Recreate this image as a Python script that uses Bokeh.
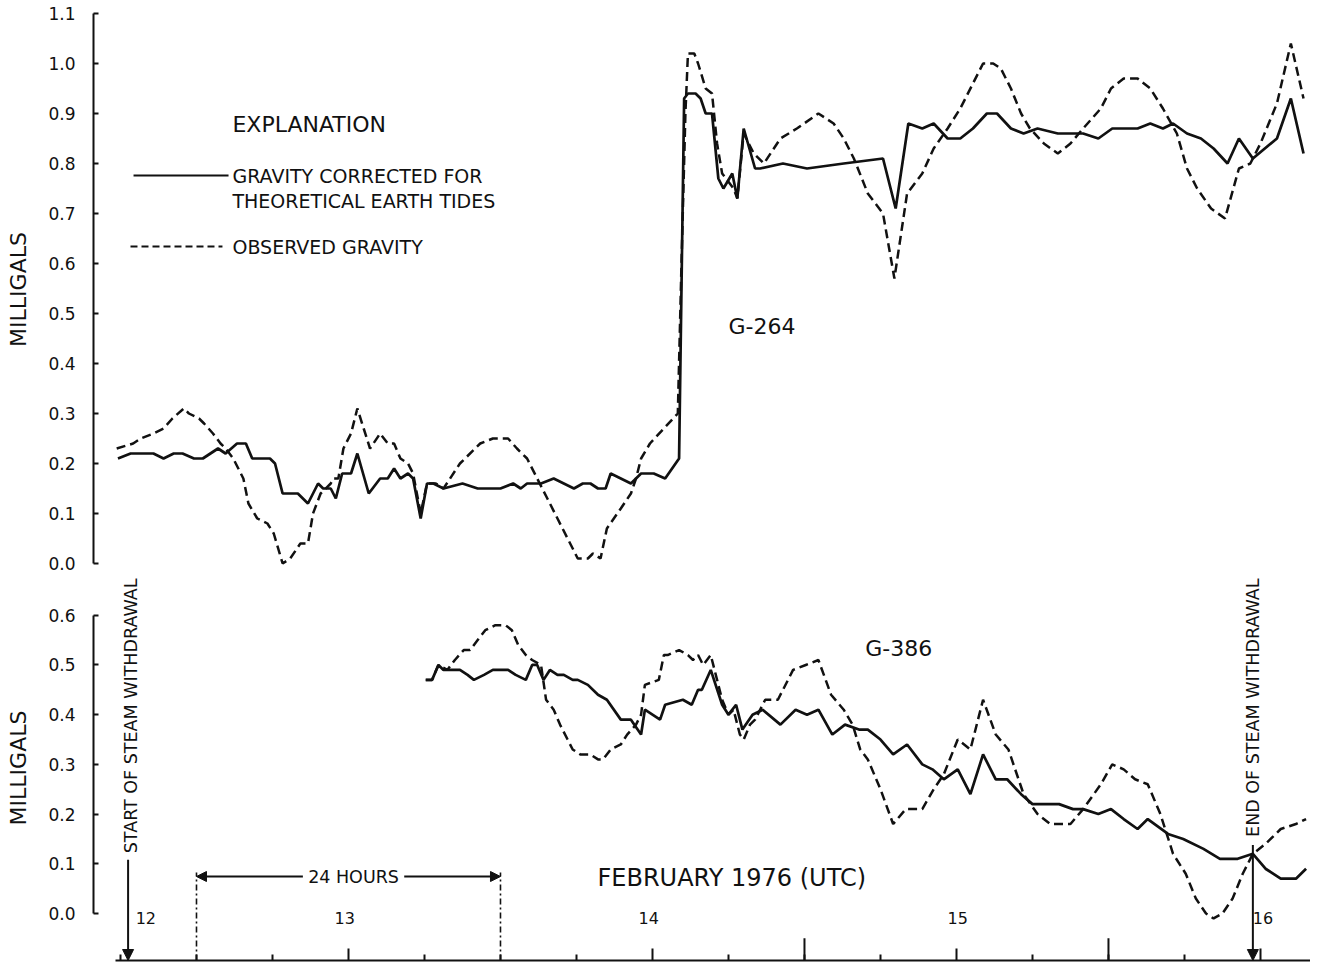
from bokeh.plotting import figure
from bokeh.layouts import column
from bokeh.models import (Range1d, FixedTicker, PrintfTickFormatter,
                          CustomJSTickFormatter, Arrow, NormalHead)
from bokeh.core.properties import value
from bokeh.embed import file_html
from bokeh.resources import INLINE

FONT = "DejaVu Sans"
INK = "#111111"

# ---------------- data (time = hours since 12 Feb 1976 00:00 UTC) ----------------
# G-264 observed gravity (dashed)
TOP_OBS_H = [5.7, 7.0, 7.6, 8.6, 9.4, 10.1, 11.0, 11.4, 12.2, 12.6,
             13.3, 13.9, 14.3, 14.9, 15.7, 16.1, 16.8, 17.6, 18.1, 18.8,
             19.4, 20.2, 20.8, 21.2, 21.8, 22.6, 22.8, 23.2, 23.6, 24.2,
             24.7, 25.2, 25.7, 26.5, 27.1, 27.6, 28.1, 28.7, 29.1, 29.7,
             30.2, 30.9, 31.5, 32.8, 34.4, 35.4, 36.6, 37.3, 38.1, 38.9,
             39.7, 40.5, 41.3, 42.1, 42.9, 43.3, 43.9, 44.4, 45.5, 46.3,
             46.7, 47.1, 47.8, 48.9, 50.0, 50.3, 50.6, 50.8, 51.3, 51.6,
             52.2, 52.7, 53.1, 53.5, 54.4, 54.7, 55.2, 56.0, 56.8, 58.1,
             59.4, 61.1, 62.3, 63.1, 63.9, 65.0, 66.2, 67.1, 68.1, 69.3,
             70.2, 71.3, 72.3, 73.3, 74.1, 74.9, 75.5, 76.3, 77.1, 77.8,
             78.9, 80.0, 81.0, 82.0, 83.4, 84.2, 85.2, 86.3, 87.3, 88.3,
             89.4, 90.2, 91.0, 92.1, 93.2, 94.3, 95.2, 96.0, 97.3, 98.4,
             99.4]
TOP_OBS_V = [0.23, 0.24, 0.25, 0.26, 0.27, 0.29, 0.31, 0.30, 0.29, 0.28,
             0.26, 0.24, 0.23, 0.21, 0.17, 0.12, 0.09, 0.08, 0.06, 0.00,
             0.01, 0.04, 0.04, 0.10, 0.14, 0.16, 0.17, 0.17, 0.23, 0.26,
             0.31, 0.27, 0.23, 0.26, 0.24, 0.24, 0.21, 0.20, 0.18, 0.10,
             0.16, 0.16, 0.15, 0.20, 0.24, 0.25, 0.25, 0.23, 0.21, 0.17,
             0.13, 0.09, 0.05, 0.01, 0.01, 0.02, 0.01, 0.07, 0.11, 0.14,
             0.17, 0.21, 0.24, 0.27, 0.30, 0.61, 0.90, 1.02, 1.02, 1.00,
             0.95, 0.94, 0.84, 0.78, 0.75, 0.73, 0.86, 0.82, 0.80, 0.85,
             0.87, 0.90, 0.88, 0.85, 0.81, 0.74, 0.70, 0.57, 0.74, 0.78,
             0.83, 0.87, 0.91, 0.96, 1.00, 1.00, 0.99, 0.95, 0.90, 0.87,
             0.84, 0.82, 0.84, 0.87, 0.91, 0.95, 0.97, 0.97, 0.95, 0.91,
             0.86, 0.79, 0.75, 0.71, 0.69, 0.79, 0.80, 0.84, 0.92, 1.04,
             0.93]

# G-264 gravity corrected for theoretical earth tides (solid)
TOP_COR_H = [5.8, 6.8, 7.6, 8.6, 9.4, 10.2, 10.9, 11.8, 12.5, 13.1,
             13.7, 14.3, 15.2, 15.9, 16.4, 17.1, 17.8, 18.2, 18.8, 20.0,
             20.8, 21.6, 22.0, 22.6, 23.0, 23.5, 24.2, 24.7, 25.6, 26.5,
             27.1, 27.6, 28.1, 28.7, 29.1, 29.7, 30.2, 30.7, 31.5, 33.0,
             34.2, 36.0, 37.0, 37.6, 38.1, 39.2, 40.2, 41.0, 41.8, 42.5,
             43.1, 43.7, 44.3, 44.7, 45.5, 46.3, 47.1, 48.1, 49.0, 50.1,
             50.5, 50.8, 51.4, 51.8, 52.2, 52.7, 53.2, 53.6, 54.3, 54.7,
             55.2, 56.1, 56.5, 58.3, 60.2, 63.1, 66.2, 67.2, 68.2, 69.3,
             70.2, 71.3, 72.3, 73.3, 74.4, 75.2, 76.3, 77.3, 78.4, 80.0,
             82.0, 83.2, 84.3, 85.2, 86.3, 87.3, 88.3, 89.1, 90.2, 91.3,
             92.3, 93.4, 94.3, 95.4, 97.3, 98.4, 99.4]
TOP_COR_V = [0.21, 0.22, 0.22, 0.22, 0.21, 0.22, 0.22, 0.21, 0.21, 0.22,
             0.23, 0.22, 0.24, 0.24, 0.21, 0.21, 0.21, 0.20, 0.14, 0.14,
             0.12, 0.16, 0.15, 0.15, 0.13, 0.18, 0.18, 0.22, 0.14, 0.17,
             0.17, 0.19, 0.17, 0.18, 0.17, 0.09, 0.16, 0.16, 0.15, 0.16,
             0.15, 0.15, 0.16, 0.15, 0.16, 0.16, 0.17, 0.16, 0.15, 0.16,
             0.16, 0.15, 0.15, 0.18, 0.17, 0.16, 0.18, 0.18, 0.17, 0.21,
             0.93, 0.94, 0.94, 0.93, 0.90, 0.90, 0.77, 0.75, 0.78, 0.73,
             0.87, 0.79, 0.79, 0.80, 0.79, 0.80, 0.81, 0.71, 0.88, 0.87,
             0.88, 0.85, 0.85, 0.87, 0.90, 0.90, 0.87, 0.86, 0.87, 0.86,
             0.86, 0.85, 0.87, 0.87, 0.87, 0.88, 0.87, 0.88, 0.86, 0.85,
             0.83, 0.80, 0.85, 0.81, 0.85, 0.93, 0.82]

# G-386 observed gravity (dashed)
BOT_OBS_H = [30.1, 30.6, 31.1, 31.8, 32.4, 33.1, 33.6, 34.2, 34.8, 35.6,
             36.4, 36.9, 37.4, 38.0, 38.5, 39.2, 39.6, 40.2, 40.7, 41.3,
             41.7, 42.3, 43.1, 43.7, 44.1, 44.7, 45.5, 46.0, 46.7, 47.1,
             47.4, 48.5, 48.9, 49.2, 50.1, 50.8, 51.2, 51.6, 52.0, 52.6,
             53.1, 53.5, 54.0, 54.4, 54.9, 55.2, 55.7, 56.1, 56.9, 57.9,
             59.1, 60.1, 61.1, 62.1, 63.1, 63.8, 64.4, 65.0, 66.0, 67.0,
             68.0, 69.3, 70.2, 71.0, 72.1, 73.1, 74.1, 75.1, 76.1, 77.3,
             78.4, 79.4, 81.0, 82.0, 83.4, 84.3, 85.2, 86.1, 87.1, 88.1,
             89.1, 90.1, 90.9, 91.7, 92.3, 93.0, 93.8, 94.6, 95.4, 96.4,
             97.6, 98.8, 99.6]
BOT_OBS_V = [0.47, 0.47, 0.50, 0.49, 0.51, 0.53, 0.53, 0.55, 0.57, 0.58,
             0.58, 0.57, 0.54, 0.52, 0.51, 0.50, 0.43, 0.41, 0.38, 0.35,
             0.33, 0.32, 0.32, 0.31, 0.31, 0.33, 0.34, 0.36, 0.38, 0.40,
             0.46, 0.47, 0.52, 0.52, 0.53, 0.52, 0.51, 0.52, 0.50, 0.52,
             0.47, 0.43, 0.40, 0.41, 0.36, 0.35, 0.38, 0.39, 0.43, 0.43,
             0.49, 0.50, 0.51, 0.44, 0.41, 0.38, 0.33, 0.31, 0.25, 0.18,
             0.21, 0.21, 0.25, 0.28, 0.35, 0.33, 0.43, 0.36, 0.33, 0.24,
             0.20, 0.18, 0.18, 0.21, 0.26, 0.30, 0.29, 0.27, 0.26, 0.20,
             0.12, 0.08, 0.03, 0.00, -0.01, 0.00, 0.03, 0.08, 0.12, 0.14,
             0.17, 0.18, 0.19]

# G-386 gravity corrected for theoretical earth tides (solid)
BOT_COR_H = [30.1, 30.6, 31.1, 31.5, 32.8, 33.4, 33.9, 34.7, 35.4, 36.6,
             37.2, 38.0, 38.5, 38.9, 39.4, 39.9, 40.5, 41.0, 41.7, 42.1,
             42.9, 43.7, 44.4, 45.5, 46.3, 47.1, 47.4, 48.6, 49.0, 50.4,
             51.1, 51.6, 51.9, 52.6, 53.5, 54.0, 54.6, 55.1, 55.9, 56.7,
             58.1, 59.3, 60.2, 61.1, 62.2, 63.2, 64.3, 65.0, 66.0, 67.0,
             68.1, 69.3, 70.1, 71.0, 72.1, 73.1, 74.1, 75.1, 76.0, 77.1,
             78.0, 79.0, 80.1, 81.2, 82.0, 83.2, 84.2, 85.2, 86.3, 87.1,
             88.7, 89.9, 91.5, 92.8, 94.2, 95.4, 96.4, 97.6, 98.8, 99.6]
BOT_COR_V = [0.47, 0.47, 0.50, 0.49, 0.49, 0.48, 0.47, 0.48, 0.49, 0.49,
             0.48, 0.47, 0.50, 0.50, 0.47, 0.49, 0.48, 0.48, 0.47, 0.47,
             0.46, 0.44, 0.43, 0.39, 0.39, 0.36, 0.41, 0.39, 0.42, 0.43,
             0.42, 0.45, 0.45, 0.49, 0.42, 0.40, 0.42, 0.37, 0.40, 0.41,
             0.38, 0.41, 0.40, 0.41, 0.36, 0.38, 0.37, 0.37, 0.35, 0.32,
             0.34, 0.30, 0.29, 0.27, 0.29, 0.24, 0.32, 0.27, 0.27, 0.24,
             0.22, 0.22, 0.22, 0.21, 0.21, 0.20, 0.21, 0.19, 0.17, 0.19,
             0.16, 0.15, 0.13, 0.11, 0.11, 0.12, 0.09, 0.07, 0.07, 0.09]

TOP_TICKS = [0.0, 0.1, 0.2, 0.3, 0.4, 0.5, 0.6, 0.7, 0.8, 0.9, 1.0, 1.1]
BOT_TICKS = [0.0, 0.1, 0.2, 0.3, 0.4, 0.5, 0.6]
MIDNIGHT_TICKS = [24, 48, 72, 96]
SIX_HOUR_TICKS = [6, 12, 18, 30, 36, 42, 54, 60, 66, 78, 84, 90]
NOON_TICKS = [60, 84]
DAY_LABELS = ["12", "13", "14", "15", "16"]
DAY_LABEL_H = [8.0, 23.7, 47.7, 72.1, 96.2]
START_H = 6.6      # start of steam withdrawal
END_H = 95.4       # end of steam withdrawal
SPAN_24H = [12, 36]

# ---------------- layout ----------------
X_RANGE = Range1d(3.869, 99.95)
TOP_Y = Range1d(-0.024, 1.12)
BOT_Y = Range1d(-0.0946, 0.680)
BOT_AXIS_Y = -0.0946


def style_y(ax, ticks, bounds):
    ax.ticker = FixedTicker(ticks=ticks)
    ax.formatter = PrintfTickFormatter(format="%.1f")
    ax.bounds = bounds
    ax.axis_line_width = 2
    ax.axis_line_color = INK
    ax.major_tick_in = 5
    ax.major_tick_out = 0
    ax.major_tick_line_width = 2
    ax.major_tick_line_color = INK
    ax.minor_tick_line_color = None
    ax.major_label_text_font = FONT
    ax.major_label_text_font_size = "17px"
    ax.major_label_text_color = INK
    ax.major_label_standoff = 18
    ax.axis_label = "MILLIGALS"
    ax.axis_label_text_font = FONT
    ax.axis_label_text_font_size = "22px"
    ax.axis_label_text_font_style = "normal"
    ax.axis_label_text_color = INK
    ax.axis_label_standoff = 14


def txt(p, x, y, s, size, align="left", angle=0.0, baseline="middle"):
    p.text(x=x, y=y, text=s, text_font=value(FONT), text_font_size=size,
           text_align=align, text_baseline=baseline, text_color=INK,
           angle=angle)


# ---------- top panel: G-264 ----------
top = figure(width=1310, height=575, x_range=X_RANGE, y_range=TOP_Y,
             output_backend="svg", toolbar_location=None,
             x_axis_location=None, min_border_left=93, min_border_right=0,
             min_border_top=3, min_border_bottom=0)
top.outline_line_color = None
top.grid.visible = False
style_y(top.yaxis[0], TOP_TICKS, (0.0, 1.1))

top.line(TOP_COR_H, TOP_COR_V, line_color=INK, line_width=2.7)
top.line(TOP_OBS_H, TOP_OBS_V, line_color=INK, line_width=2.5, line_dash="9 5")

# explanation block
txt(top, [14.84], [0.878], ["EXPLANATION"], "22px")
top.line([7.03, 14.53], [0.776, 0.776], line_color=INK, line_width=2)
top.line([6.79, 14.05], [0.634, 0.634], line_color=INK, line_width=2, line_dash="7 4")
txt(top, [14.84, 14.84, 14.84], [0.776, 0.726, 0.634],
    ["GRAVITY CORRECTED FOR", "THEORETICAL EARTH TIDES", "OBSERVED GRAVITY"], "19px")
txt(top, [54.0], [0.474], ["G-264"], "22px")

# ---------- bottom panel: G-386 ----------
bot = figure(width=1310, height=387, x_range=X_RANGE, y_range=BOT_Y,
             output_backend="svg", toolbar_location=None,
             min_border_left=93, min_border_right=0,
             min_border_top=0, min_border_bottom=2)
bot.outline_line_color = None
bot.grid.visible = False
style_y(bot.yaxis[0], BOT_TICKS, (0.0, 0.6))

xa = bot.xaxis[0]
xa.ticker = FixedTicker(ticks=MIDNIGHT_TICKS, minor_ticks=SIX_HOUR_TICKS)
xa.formatter = CustomJSTickFormatter(code="return ''")
xa.major_label_text_font_size = "1px"
xa.major_label_standoff = 0
xa.bounds = (5.6, 99.95)
xa.axis_line_width = 2
xa.axis_line_color = INK
xa.major_tick_in = 12
xa.major_tick_out = 0
xa.major_tick_line_width = 2
xa.major_tick_line_color = INK
xa.minor_tick_in = 6
xa.minor_tick_out = 0
xa.minor_tick_line_width = 2
xa.minor_tick_line_color = INK

bot.line(BOT_COR_H, BOT_COR_V, line_color=INK, line_width=2.7)
bot.line(BOT_OBS_H, BOT_OBS_V, line_color=INK, line_width=2.5, line_dash="9 5")

# taller noon ticks
bot.segment(x0=NOON_TICKS, y0=[BOT_AXIS_Y] * len(NOON_TICKS), x1=NOON_TICKS,
            y1=[-0.050] * len(NOON_TICKS), line_color=INK, line_width=2)

# 24-hour bracket
bot.segment(x0=SPAN_24H, y0=[BOT_AXIS_Y] * 2, x1=SPAN_24H, y1=[0.0825] * 2,
            line_color=INK, line_width=1.6, line_dash="6 3 2 3")
bot.add_layout(Arrow(end=NormalHead(size=10, fill_color=INK, line_color=INK),
                     x_start=20.4, y_start=0.0744, x_end=SPAN_24H[0], y_end=0.0744,
                     line_color=INK, line_width=1.8))
bot.add_layout(Arrow(end=NormalHead(size=10, fill_color=INK, line_color=INK),
                     x_start=28.4, y_start=0.0744, x_end=SPAN_24H[1], y_end=0.0744,
                     line_color=INK, line_width=1.8))
txt(bot, [24.4], [0.0744], ["24 HOURS"], "17.5px", align="center")

# steam withdrawal markers
txt(bot, [START_H + 0.25], [0.674], ["START OF STEAM WITHDRAWAL"], "17.5px",
    align="right", angle=1.5707963)
txt(bot, [END_H], [0.674], ["END OF STEAM WITHDRAWAL"], "17.5px",
    align="right", angle=1.5707963)
bot.add_layout(Arrow(end=NormalHead(size=11, fill_color=INK, line_color=INK),
                     x_start=START_H, y_start=0.108, x_end=START_H, y_end=BOT_AXIS_Y,
                     line_color=INK, line_width=2))
bot.add_layout(Arrow(end=NormalHead(size=11, fill_color=INK, line_color=INK),
                     x_start=END_H, y_start=0.138, x_end=END_H, y_end=BOT_AXIS_Y,
                     line_color=INK, line_width=2))

txt(bot, [43.66], [0.0704], ["FEBRUARY 1976 (UTC)"], "24px")
txt(bot, DAY_LABEL_H, [-0.010] * len(DAY_LABELS), DAY_LABELS, "16px", align="center")
txt(bot, [64.8], [0.533], ["G-386"], "22px")

layout = column(top, bot, spacing=0)
open("out.html", "w").write(file_html(layout, INLINE))
